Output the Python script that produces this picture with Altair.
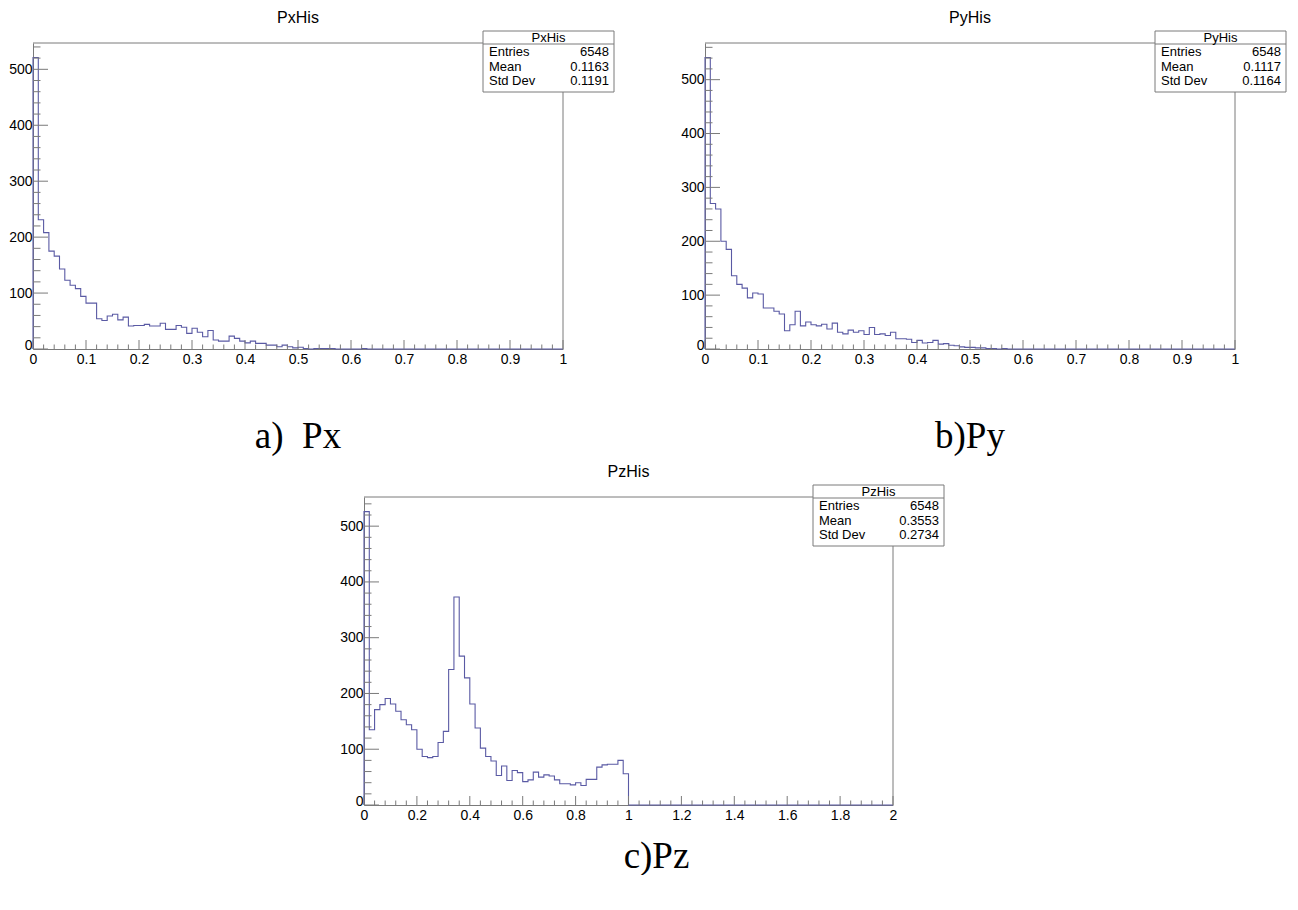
import altair as alt
import pandas as pd

# ---------------- data ----------------
hist_names = ["PxHis", "PyHis", "PzHis"]
captions = ["a)\u00a0\u00a0Px", "b)Py", "c)Pz"]
entries = ["6548", "6548", "6548"]
means = ["0.1163", "0.1117", "0.3553"]
std_devs = ["0.1191", "0.1164", "0.2734"]
x_max = [1.0, 1.0, 2.0]
n_bins = 100

# Px: 100 bins over [0, 1]
px_counts = [521, 231, 208, 175, 166, 143, 123, 114, 108, 94,
             82, 82, 54, 51, 59, 62, 52, 57, 41, 42,
             42, 44, 41, 41, 46, 35, 35, 42, 39, 28,
             37, 30, 22, 33, 16, 14, 14, 23, 19, 14,
             11, 14, 10, 10, 7, 7, 4, 7, 4, 2,
             3, 1, 0, 1, 1, 1, 1, 0, 0, 0,
             0, 0, 1]
# Py: 100 bins over [0, 1]
py_counts = [541, 270, 260, 200, 185, 136, 120, 113, 95, 104,
             102, 76, 76, 70, 65, 34, 45, 70, 43, 50,
             45, 43, 46, 37, 48, 31, 28, 35, 31, 34,
             27, 40, 27, 28, 25, 31, 19, 19, 18, 12,
             16, 11, 12, 16, 9, 10, 7, 6, 4, 3,
             3, 2, 2, 1, 1, 0, 1]
# Pz: 100 bins over [0, 2]
pz_counts = [526, 135, 171, 180, 191, 181, 168, 153, 144, 135,
             100, 87, 85, 87, 112, 132, 243, 373, 267, 228,
             181, 138, 102, 87, 79, 53, 70, 44, 62, 58,
             42, 45, 59, 50, 54, 52, 45, 38, 38, 36,
             40, 35, 46, 46, 68, 72, 73, 73, 80, 56]

all_counts = [c + [0] * (n_bins - len(c)) for c in (px_counts, py_counts, pz_counts)]

x_major_labels = [
    [0, 0.1, 0.2, 0.3, 0.4, 0.5, 0.6, 0.7, 0.8, 0.9, 1],
    [0, 0.1, 0.2, 0.3, 0.4, 0.5, 0.6, 0.7, 0.8, 0.9, 1],
    [0, 0.2, 0.4, 0.6, 0.8, 1, 1.2, 1.4, 1.6, 1.8, 2],
]
y_major_labels = [0, 100, 200, 300, 400, 500]

# ---------------- style ----------------
LINE = "#5a5aa4"
AXIS = "#7a7a7a"
FONT = "Liberation Sans"
SERIF = "Liberation Serif"


def panel(idx, W, H):
    counts = all_counts[idx]
    xmax = x_max[idx]
    bw = xmax / n_bins
    xs = [0.0] + [i * bw for i in range(n_bins)] + [xmax]
    ys = [0] + counts + [counts[-1]]
    df = pd.DataFrame({"x": xs, "y": ys, "o": list(range(len(xs)))})
    ymax = 1.05 * max(counts)

    xscale = alt.Scale(domain=[0, xmax], nice=False, zero=False)
    yscale = alt.Scale(domain=[0, ymax], nice=False, zero=True)
    xaxis = alt.Axis(values=x_major_labels[idx], format="~g", ticks=False, grid=False,
                     domainColor=AXIS, domainWidth=1, labelFont=FONT, labelFontSize=14,
                     labelColor="black", labelPadding=3, labelFlush=False,
                     labelOverlap=False, title=None)
    yaxis = alt.Axis(values=y_major_labels, format="d", ticks=False, grid=False,
                     domainColor=AXIS, domainWidth=1, labelFont=FONT, labelFontSize=14,
                     labelColor="black", labelPadding=1, labelOverlap=False, title=None,
                     labelBaseline=alt.condition("datum.value == 0", alt.value("alphabetic"),
                                                 alt.value("middle")))

    line = alt.Chart(df).mark_line(interpolate="step-after", color=LINE, strokeWidth=1.1).encode(
        x=alt.X("x:Q", scale=xscale, axis=xaxis),
        y=alt.Y("y:Q", scale=yscale, axis=yaxis),
        order="o:Q",
    )

    # tick marks drawn inward, as ROOT does
    major_step = x_major_labels[idx][1]
    minor_step = major_step / 5
    n_minor = int(round(xmax / minor_step))
    x_minor = [round(i * minor_step, 6) for i in range(n_minor + 1) if i % 5 != 0]
    y_minor = [v for v in range(20, int(ymax) + 1, 20) if v % 100 != 0]

    def xt(vals, ln):
        return alt.Chart(pd.DataFrame({"x": vals})).mark_rule(color=AXIS, strokeWidth=1).encode(
            x=alt.X("x:Q", scale=xscale, axis=xaxis),
            y=alt.value(H), y2=alt.value(H - ln))

    def yt(vals, ln):
        return alt.Chart(pd.DataFrame({"y": vals})).mark_rule(color=AXIS, strokeWidth=1).encode(
            y=alt.Y("y:Q", scale=yscale, axis=yaxis),
            x=alt.value(0), x2=alt.value(ln))

    one = alt.Chart(pd.DataFrame({"a": [0]}))
    frame_top = one.mark_rule(color=AXIS).encode(x=alt.value(0), x2=alt.value(W), y=alt.value(0))
    frame_right = one.mark_rule(color=AXIS).encode(x=alt.value(W), y=alt.value(0), y2=alt.value(H))

    # statistics box
    bx, by, bwid, bh = W - 80, -12, 131, 61
    box = one.mark_rect(fill="white", stroke=AXIS, strokeWidth=1).encode(
        x=alt.value(bx), x2=alt.value(bx + bwid), y=alt.value(by), y2=alt.value(by + bh))
    hline = one.mark_rule(color=AXIS).encode(
        x=alt.value(bx), x2=alt.value(bx + bwid), y=alt.value(by + 13))
    header = one.mark_text(text=hist_names[idx], font=FONT, fontSize=13, align="center",
                           baseline="middle", color="black").encode(
        x=alt.value(bx + bwid / 2), y=alt.value(by + 7))
    rows = []
    for r, (lab, val) in enumerate([("Entries", entries[idx]), ("Mean", means[idx]),
                                     ("Std Dev", std_devs[idx])]):
        yy = by + 21 + r * 14.5
        rows.append(one.mark_text(text=lab, font=FONT, fontSize=13, align="left",
                                  baseline="middle", color="black").encode(
            x=alt.value(bx + 6), y=alt.value(yy)))
        rows.append(one.mark_text(text=val, font=FONT, fontSize=13, align="right",
                                  baseline="middle", color="black").encode(
            x=alt.value(bx + bwid - 5), y=alt.value(yy)))

    title = one.mark_text(text=hist_names[idx], font=FONT, fontSize=16, align="center",
                          baseline="middle", color="black").encode(
        x=alt.value(W / 2), y=alt.value(-25))

    cap_offsets = [(0, 88), (0, 88), (28, 52)]
    cdx, cdy = cap_offsets[idx]
    caption = one.mark_text(text=captions[idx], font=SERIF, fontSize=37, align="center",
                            baseline="middle", color="black").encode(
        x=alt.value(W / 2 + cdx), y=alt.value(H + cdy))

    layers = [line, xt(x_major_labels[idx], 9), xt(x_minor, 4.5),
              yt(y_major_labels, 15), yt(y_minor, 7.5), frame_top, frame_right,
              box, hline, header] + rows + [title, caption]
    return alt.layer(*layers).properties(width=W, height=H)


px = panel(0, 530, 306)
py = panel(1, 530, 306)
pz = panel(2, 529, 308)
spacer = alt.Chart(pd.DataFrame({"a": [0]})).mark_text(text="").encode(
    x=alt.value(0), y=alt.value(0)).properties(width=331, height=308)

top_row = alt.hconcat(px, py, spacing=142, bounds="flush")
bottom_row = alt.hconcat(spacer, pz, spacing=0, bounds="flush")

# with flush bounds the nested row counts as zero height, so the row gap
# includes the top row's plot height (306) plus the visual gap (148)
chart = alt.vconcat(top_row, bottom_row, spacing=454, bounds="flush").properties(
    padding={"left": 0, "top": 2, "right": 0, "bottom": 0}
).configure_view(strokeWidth=0)

chart.save("out.html", embed_options={"renderer": "svg", "actions": False})
